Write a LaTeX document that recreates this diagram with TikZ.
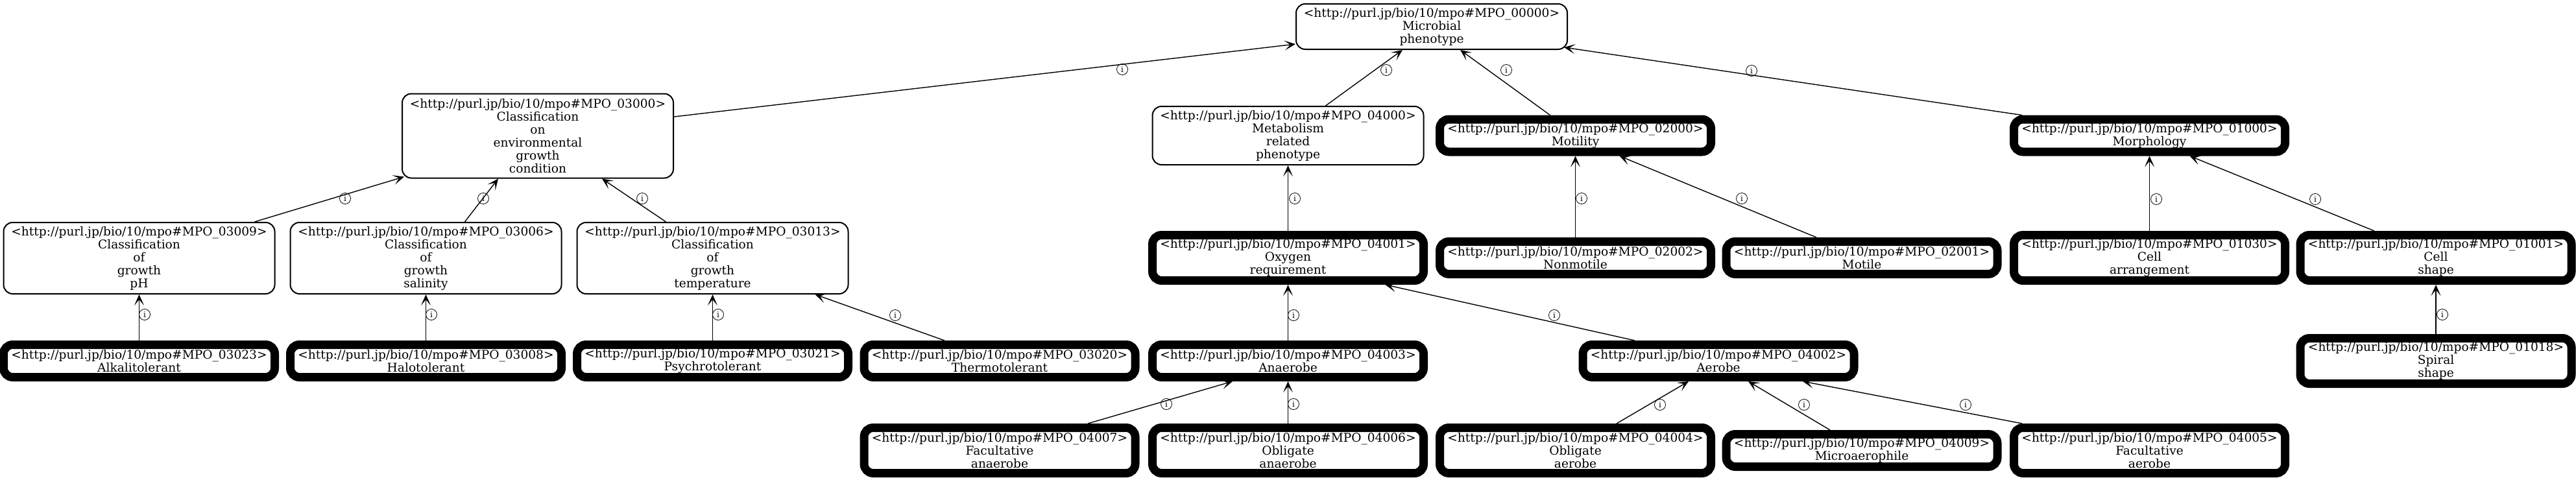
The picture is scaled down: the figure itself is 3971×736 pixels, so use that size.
\documentclass[tikz,border=0pt]{standalone}
\usepackage{fontspec}
\setmainfont{DejaVu Serif}
\usetikzlibrary{arrows.meta,calc}
\begin{document}
\begin{tikzpicture}[x=1pt,y=-1pt,
  nbox/.style={rectangle, rounded corners=14pt, draw=black, fill=white, align=center,
    minimum width=418pt, inner sep=0pt, font=\fontsize{18.6}{20}\selectfont},
  lite/.style={nbox, line width=2pt, outer sep=1pt},
  heavy/.style={nbox, line width=13pt, outer sep=6.5pt},
  Ltwo/.style={minimum height=50pt}, Lthree/.style={minimum height=70pt},
  Lfour/.style={minimum height=90pt}, Lfive/.style={minimum height=110pt},
  Lsix/.style={minimum height=130pt},
  conn/.style={line width=1.4pt, -{Stealth[length=17pt,width=15pt,inset=9pt]}},
  lbl/.style={circle, draw, line width=0.8pt, inner sep=0pt, minimum size=17pt,
    font=\fontsize{12}{12}\selectfont}]
\useasboundingbox (0,0) rectangle (3971,736);

% row 0
\node[lite,Lthree] (n00000) at (2207,41) {<http://purl.jp/bio/10/mpo\#MPO\_00000>\\Microbial\\phenotype};
% row 1
\node[lite,Lsix] (n03000) at (829,209.5) {<http://purl.jp/bio/10/mpo\#MPO\_03000>\\Classification\\on\\environmental\\growth\\condition};
\node[lite,Lfour] (n04000) at (1985.5,209) {<http://purl.jp/bio/10/mpo\#MPO\_04000>\\Metabolism\\related\\phenotype};
\node[heavy,Ltwo] (n02000) at (2428.5,209) {<http://purl.jp/bio/10/mpo\#MPO\_02000>\\Motility};
\node[heavy,Ltwo] (n01000) at (3313.5,209) {<http://purl.jp/bio/10/mpo\#MPO\_01000>\\Morphology};
% row 2
\node[lite,Lfive] (n03009) at (214.5,398) {<http://purl.jp/bio/10/mpo\#MPO\_03009>\\Classification\\of\\growth\\pH};
\node[lite,Lfive] (n03006) at (656.5,398) {<http://purl.jp/bio/10/mpo\#MPO\_03006>\\Classification\\of\\growth\\salinity};
\node[lite,Lfive] (n03013) at (1098.5,398) {<http://purl.jp/bio/10/mpo\#MPO\_03013>\\Classification\\of\\growth\\temperature};
\node[heavy,Lthree] (n04001) at (1985.5,397.5) {<http://purl.jp/bio/10/mpo\#MPO\_04001>\\Oxygen\\requirement};
\node[heavy,Ltwo] (n02002) at (2428.5,397.5) {<http://purl.jp/bio/10/mpo\#MPO\_02002>\\Nonmotile};
\node[heavy,Ltwo] (n02001) at (2870,397.5) {<http://purl.jp/bio/10/mpo\#MPO\_02001>\\Motile};
\node[heavy,Lthree] (n01030) at (3313.5,397.5) {<http://purl.jp/bio/10/mpo\#MPO\_01030>\\Cell\\arrangement};
\node[heavy,Lthree] (n01001) at (3755,397.5) {<http://purl.jp/bio/10/mpo\#MPO\_01001>\\Cell\\shape};
% row 3
\node[heavy,Ltwo] (n03023) at (214.5,556.5) {<http://purl.jp/bio/10/mpo\#MPO\_03023>\\Alkalitolerant};
\node[heavy,Ltwo] (n03008) at (656.5,556.5) {<http://purl.jp/bio/10/mpo\#MPO\_03008>\\Halotolerant};
\node[heavy,Ltwo] (n03021) at (1098.5,556.5) {<http://purl.jp/bio/10/mpo\#MPO\_03021>\\Psychrotolerant};
\node[heavy,Ltwo] (n03020) at (1541,556.5) {<http://purl.jp/bio/10/mpo\#MPO\_03020>\\Thermotolerant};
\node[heavy,Ltwo] (n04003) at (1985.5,556.5) {<http://purl.jp/bio/10/mpo\#MPO\_04003>\\Anaerobe};
\node[heavy,Ltwo] (n04002) at (2649,556.5) {<http://purl.jp/bio/10/mpo\#MPO\_04002>\\Aerobe};
\node[heavy,Lthree] (n01018) at (3755,556.5) {<http://purl.jp/bio/10/mpo\#MPO\_01018>\\Spiral\\shape};
% row 4
\node[heavy,Lthree] (n04007) at (1541,694.5) {<http://purl.jp/bio/10/mpo\#MPO\_04007>\\Facultative\\anaerobe};
\node[heavy,Lthree] (n04006) at (1985.5,694.5) {<http://purl.jp/bio/10/mpo\#MPO\_04006>\\Obligate\\anaerobe};
\node[heavy,Lthree] (n04004) at (2428.5,694.5) {<http://purl.jp/bio/10/mpo\#MPO\_04004>\\Obligate\\aerobe};
\node[heavy,Ltwo] (n04009) at (2870,694.5) {<http://purl.jp/bio/10/mpo\#MPO\_04009>\\Microaerophile};
\node[heavy,Lthree] (n04005) at (3313.5,694.5) {<http://purl.jp/bio/10/mpo\#MPO\_04005>\\Facultative\\aerobe};

% edges (child -> parent)
\draw[conn] ($(n03000.east)+(0,-29.5)$) -- ($(n00000.west)+(0,27)$);
\draw[conn] ($(n04000.north)+(58,0)$) -- ($(n00000.south)+(-45,0)$);
\draw[conn] ($(n02000.north)+(-39,0)$) -- ($(n00000.south)+(44,0)$);
\draw[conn] ($(n01000.north)+(-196.5,0)$) -- ($(n00000.south east)+(-6,-4)$);
\draw[conn] ($(n03009.north)+(178,0)$) -- ($(n03000.south west)+(4,-3)$);
\draw[conn] ($(n03006.north)+(60,0)$) -- ($(n03000.south)+(-61,0)$);
\draw[conn] ($(n03013.north)+(-72,0)$) -- ($(n03000.south)+(99,0)$);
\draw[conn] (n04001.north) -- (n04000.south);
\draw[conn] (n02002.north) -- (n02000.south);
\draw[conn] ($(n02001.north)+(-70,0)$) -- ($(n02000.south)+(68,0)$);
\draw[conn] (n01030.north) -- (n01000.south);
\draw[conn] ($(n01001.north)+(-95,0)$) -- ($(n01000.south)+(62,0)$);
\draw[conn] (n03023.north) -- (n03009.south);
\draw[conn] (n03008.north) -- (n03006.south);
\draw[conn] (n03021.north) -- (n03013.south);
\draw[conn] ($(n03020.north)+(-85,0)$) -- ($(n03013.south)+(158,0)$);
\draw[conn] (n04003.north) -- (n04001.south);
\draw[conn] ($(n04002.north)+(-129,0)$) -- ($(n04001.south)+(150,0)$);
\draw[conn] (n01018.north) -- (n01001.south);
\draw[conn] ($(n04007.north)+(136,0)$) -- ($(n04003.south)+(-85.5,0)$);
\draw[conn] (n04006.north) -- (n04003.south);
\draw[conn] ($(n04004.north)+(63.5,0)$) -- ($(n04002.south)+(-46,0)$);
\draw[conn] ($(n04009.north)+(-49,0)$) -- ($(n04002.south)+(46,0)$);
\draw[conn] ($(n04005.north)+(-196.5,0)$) -- ($(n04002.south)+(130,0)$);

% edge labels
\node[lbl] (l1) at (1730,107) {i};
\node[lbl] (l2) at (2137,108) {i};
\node[lbl] (l3) at (2322,108) {i};
\node[lbl] (l4) at (2700,109) {i};
\node[lbl] (l5) at (532,306) {i};
\node[lbl] (l6) at (745,306) {i};
\node[lbl] (l7) at (990,306) {i};
\node[lbl] (l8) at (1996,306) {i};
\node[lbl] (l9) at (2438,306) {i};
\node[lbl] (l10) at (2685,306) {i};
\node[lbl] (l11) at (3324,307) {i};
\node[lbl] (l12) at (3569,307) {i};
\node[lbl] (l13) at (223,485) {i};
\node[lbl] (l14) at (665,485) {i};
\node[lbl] (l15) at (1107,485) {i};
\node[lbl] (l16) at (1380,486) {i};
\node[lbl] (l17) at (1994,486) {i};
\node[lbl] (l18) at (2396,486) {i};
\node[lbl] (l19) at (3765,485) {i};
\node[lbl] (l20) at (1798,623) {i};
\node[lbl] (l21) at (1994,623) {i};
\node[lbl] (l22) at (2559,624) {i};
\node[lbl] (l23) at (2781,624) {i};
\node[lbl] (l24) at (3030,624) {i};
\end{tikzpicture}
\end{document}
